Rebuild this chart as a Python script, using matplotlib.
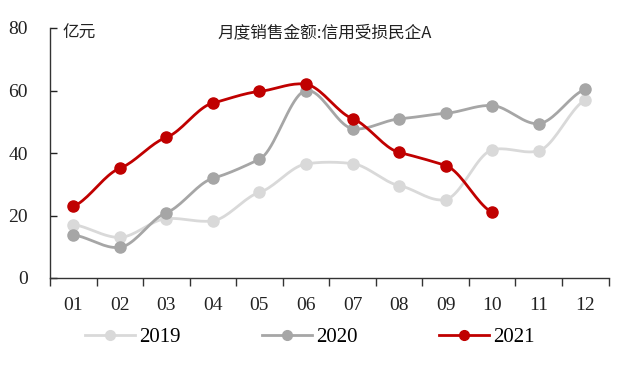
import numpy as np
import matplotlib
matplotlib.use("Agg")
import matplotlib.pyplot as plt
from matplotlib.lines import Line2D

plt.rcParams['font.family'] = ['Liberation Serif', 'Noto Sans CJK SC', 'DejaVu Sans']

months = ["01", "02", "03", "04", "05", "06", "07", "08", "09", "10", "11", "12"]
s2019 = [17.1, 13.0, 19.0, 18.3, 27.4, 36.5, 36.6, 29.6, 25.1, 41.0, 40.7, 57.0]
s2020 = [13.8, 9.8, 20.9, 31.9, 38.0, 60.0, 47.8, 50.9, 52.7, 55.2, 49.4, 60.4]
s2021 = [22.9, 35.1, 45.0, 56.0, 59.7, 62.0, 51.0, 40.2, 36.0, 21.0]
series_names = ["2019", "2020", "2021"]
colors = ["#d9d9d9", "#a6a6a6", "#c00000"]
title = "月度销售金额:信用受损民企A"
unit = "亿元"


def smooth(x, y, n=20):
    x = np.asarray(x, float)
    y = np.asarray(y, float)
    if len(x) < 3:
        return x, y
    px = np.concatenate([[2 * x[0] - x[1]], x, [2 * x[-1] - x[-2]]])
    py = np.concatenate([[2 * y[0] - y[1]], y, [2 * y[-1] - y[-2]]])
    xs, ys = [], []
    t = np.linspace(0, 1, n, endpoint=False)
    for i in range(1, len(px) - 2):
        p0, p1, p2, p3 = py[i - 1], py[i], py[i + 1], py[i + 2]
        q1, q2 = px[i], px[i + 1]
        m1 = (p2 - p0) * 0.25
        m2 = (p3 - p1) * 0.25
        h00 = 2 * t**3 - 3 * t**2 + 1
        h10 = t**3 - 2 * t**2 + t
        h01 = -2 * t**3 + 3 * t**2
        h11 = t**3 - t**2
        ys.append(h00 * p1 + h10 * m1 + h01 * p2 + h11 * m2)
        xs.append(q1 + (q2 - q1) * t)
    xs.append([x[-1]])
    ys.append([y[-1]])
    return np.concatenate(xs), np.concatenate(ys)


fig = plt.figure(figsize=(6.2, 3.67), dpi=100)
ax = fig.add_axes([50 / 620, 1 - 278 / 367, 558.5 / 620, 250 / 367])

for vals, c in zip([s2019, s2020, s2021], colors):
    x = np.arange(len(vals))
    sx, sy = smooth(x, vals)
    ax.plot(sx, sy, color=c, lw=2.0, zorder=2, solid_capstyle='round')
    ax.plot(x, vals, 'o', color=c, ms=8, zorder=3)

ax.set_xlim(-0.5, 11.5)
ax.set_ylim(0, 80)
ax.set_yticks([0, 20, 40, 60, 80])
ax.set_xticks(np.arange(12))
ax.set_xticklabels(months)
ax.set_xticks(np.arange(-0.5, 12, 1), minor=True)
ax.tick_params(axis='x', which='major', length=0, pad=14, labelsize=14, colors='#222222')
ax.tick_params(axis='x', which='minor', length=6, direction='out', width=1, color='#333333')
ax.tick_params(axis='y', length=5, direction='in', width=1, labelsize=14, pad=16, colors='#222222')
for s in ['top', 'right']:
    ax.spines[s].set_visible(False)
for s in ['left', 'bottom']:
    ax.spines[s].set_color('#333333')
    ax.spines[s].set_linewidth(1)
ax.set_facecolor('white')

fig.text(62 / 620, 1 - 33 / 367, unit, fontsize=12, family=['Noto Sans CJK SC'], va='center', ha='left', color='#222222')
fig.text(325 / 620, 1 - 33 / 367, title, fontsize=12, family=['Noto Sans CJK SC'], va='center', ha='center', color='#222222')

handles = [Line2D([0], [0], color=c, lw=2, marker='o', ms=7) for c in colors]
fig.legend(handles, series_names, loc='center', bbox_to_anchor=(0.5, 1 - 337 / 367), ncol=3,
           frameon=False, fontsize=15, handlelength=2.4, columnspacing=3.9, handletextpad=0.2)

fig.savefig("out.png", dpi=100, facecolor='white')
